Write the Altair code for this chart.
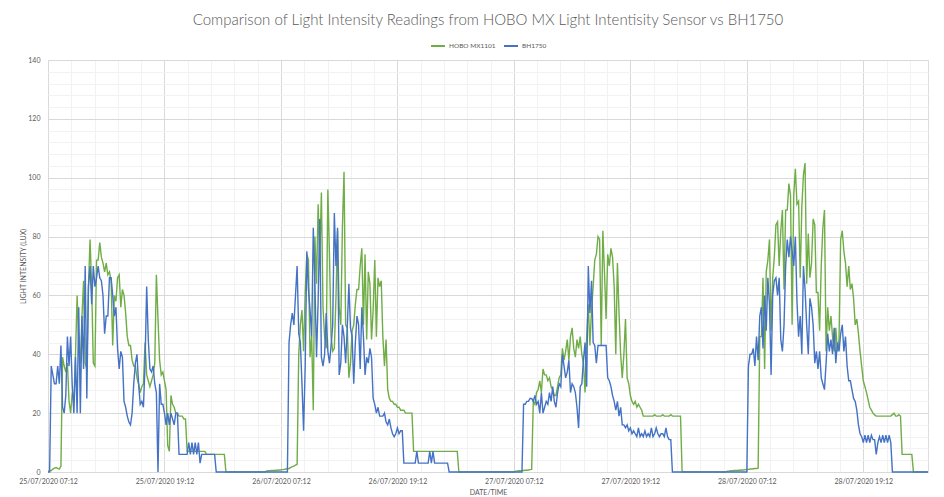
import altair as alt
import pandas as pd

# ---------------- data ----------------
START = "2020-07-25T07:12:00Z"      # first reading
STEP_MINUTES = 10                  # readings every 10 minutes

series_names = ["HOBO MX1101", "BH1750"]
series_colors = ["#70AD47", "#4472C4"]

hobo_mx1101 = [
    0.3, 0.3, 0.5, 1, 1.3, 1.5, 1.2, 1, 2, 39,
    36, 34, 37, 24, 20, 27, 24, 40, 60, 44,
    37, 53, 65, 37, 35, 63, 79, 63, 37, 36,
    72, 72, 78, 73, 71, 68, 71, 67, 68, 65,
    43, 60, 58, 66, 67, 56, 62, 60, 54, 46,
    43, 43, 38, 36, 36, 32, 30, 27, 29, 30,
    44, 33, 31, 29, 31, 33, 37, 67, 52, 38,
    33, 34, 31, 28, 9, 7, 26, 23, 22, 20,
    20, 19, 19, 19, 18, 18, 7, 7, 7, 7,
    7, 7, 7, 7, 7, 7, 7, 7, 6, 6,
    6, 6, 6, 6, 6, 6, 6, 6, 6, 6,
    0, 0, 0, 0, 0, 0, 0, 0, 0, 0,
    0, 0, 0, 0, 0, 0, 0, 0, 0, 0,
    0, 0, 0, 0, 0, 0.3, 0.4, 0.4, 0.5, 0.5,
    0.5, 0.6, 0.6, 0.7, 0.7, 0.8, 0.9, 1, 1.1, 1.2,
    1.5, 1.8, 2, 2.3, 2.6, 40, 50, 55, 41, 61,
    74, 72, 39, 46, 21, 80, 64, 91, 72, 95,
    56, 46, 42, 96, 74, 46, 41, 42, 59, 82,
    56, 50, 83, 102, 50, 49, 32, 37, 48, 50,
    57, 62, 62, 70, 76, 50, 74, 45, 68, 64,
    45, 55, 72, 46, 66, 63, 65, 46, 36, 45,
    28, 25, 24, 24, 23, 23, 22, 22, 21, 21,
    21, 20, 20, 20, 20, 20, 7, 7, 7, 7,
    7, 7, 7, 7, 7, 7, 7, 7, 7, 7,
    7, 7, 7, 7, 7, 7, 7, 7, 7, 7,
    7, 7, 7, 7, 0, 0, 0, 0, 0, 0,
    0, 0, 0, 0, 0, 0, 0, 0, 0, 0,
    0, 0, 0, 0, 0, 0, 0, 0, 0, 0,
    0, 0, 0, 0, 0, 0, 0, 0, 0, 0.3,
    0.3, 0.4, 0.4, 0.5, 0.5, 0.6, 0.6, 0.7, 0.8, 0.9,
    24, 23, 27, 28, 31, 27, 35, 33, 33, 31,
    32, 29, 28, 26, 26, 29, 32, 33, 42, 38,
    41, 45, 38, 46, 49, 42, 39, 45, 42, 46,
    40, 37, 27, 46, 57, 43, 55, 63, 72, 74,
    80, 79, 43, 82, 68, 52, 74, 70, 76, 73,
    63, 40, 71, 54, 40, 32, 40, 52, 32, 30,
    26, 24, 23, 24, 22, 23, 22, 21, 19, 19,
    19, 19, 19, 19, 19, 19.5, 19, 19, 19, 19,
    19.5, 19, 19, 19, 19, 19.5, 19, 19, 19, 19,
    19, 19, 0, 0, 0, 0, 0, 0, 0, 0,
    0, 0, 0, 0, 0, 0, 0, 0, 0, 0,
    0, 0, 0, 0, 0, 0, 0, 0, 0, 0,
    0.3, 0.3, 0.4, 0.4, 0.5, 0.5, 0.5, 0.6, 0.6, 0.7,
    0.7, 0.8, 0.8, 0.9, 1, 1, 1.1, 1.2, 1.2, 1.3,
    46, 46, 66, 35, 68, 72, 79, 48, 66, 73,
    84, 85, 70, 82, 89, 62, 89, 89, 98, 94,
    50, 94, 103, 91, 92, 66, 90, 101, 105, 64,
    81, 66, 71, 86, 84, 61, 61, 48, 70, 83,
    89, 41, 56, 48, 53, 46, 41, 49, 41, 45,
    79, 82, 75, 71, 63, 70, 62, 64, 59, 50,
    52, 47, 41, 36, 31, 29, 27, 24.5, 22, 21,
    20, 19.4, 19, 19, 19, 19, 19, 19, 19, 19,
    19, 19, 19.5, 20, 19, 19, 19.5, 19, 6, 6,
    6, 6, 6, 6, 6, 0, 0, 0, 0, 0,
    0, 0, 0, 0, 0,
]

bh1750 = [
    0, 0, 36, 33, 30, 30, 36, 30, 43, 22,
    20, 26, 46, 36, 46, 29, 20, 39, 20, 56,
    20, 53, 35, 70, 25, 63, 70, 57, 70, 63,
    66, 70, 66, 65, 60, 47, 53, 53, 66, 66,
    60, 53, 56, 42, 35, 41, 39, 24, 22, 19,
    17, 16, 20, 30, 37, 40, 30, 23, 24, 22,
    37, 63, 45, 35, 34, 36, 30, 27, 0, 30,
    23, 23, 20, 16, 20, 16, 20, 18, 16, 20,
    20, 6, 6, 6, 6, 6, 6, 10, 6, 10,
    6, 10, 6, 10, 3, 6, 6, 6, 6, 6,
    6, 6, 6, 6, 0, 0, 0, 0, 0, 0,
    0, 0, 0, 0, 0, 0, 0, 0, 0, 0,
    0, 0, 0, 0, 0, 0, 0, 0, 0, 0,
    0, 0, 0, 0, 0, 0, 0, 0, 0, 0,
    0, 0, 0, 0, 0, 0, 0, 0, 0, 44,
    50, 54, 50, 60, 70, 47, 44, 30, 14, 36,
    75, 62, 55, 46, 83, 64, 39, 58, 86, 39,
    36, 40, 54, 41, 37, 43, 50, 88, 70, 83,
    33, 37, 50, 46, 37, 49, 64, 49, 46, 30,
    44, 53, 50, 35, 56, 46, 33, 39, 37, 42,
    39, 25, 23, 20, 22, 19, 19, 19, 20, 17,
    16, 18, 15, 13, 12, 13, 15, 13, 14, 14,
    3, 3, 3, 3, 3, 3, 3, 3, 7, 3,
    3, 3, 3, 3, 3, 3, 7, 3, 7, 3,
    3, 3, 3, 3, 3, 3, 3, 3, 0, 0,
    0, 0, 0, 0, 0, 0, 0, 0, 0, 0,
    0, 0, 0, 0, 0, 0, 0, 0, 0, 0,
    0, 0, 0, 0, 0, 0, 0, 0, 0, 0,
    0, 0, 0, 0, 0, 0, 0, 0, 0, 0,
    0, 0, 0, 0, 23, 23, 24, 24, 25, 25,
    24, 26, 23, 24, 20, 27, 20, 22, 24, 23,
    27, 24, 29, 24, 22, 27, 30, 29, 40, 36,
    32, 34, 38, 27, 30, 29, 27, 22, 15, 29,
    30, 38, 44, 29, 70, 54, 65, 44, 43, 37,
    43, 43, 43, 43, 43, 43, 32, 31, 29, 26,
    24, 21, 24, 19, 22, 16, 16, 15, 16, 14,
    15, 13, 14, 13, 12, 15, 12, 13, 12, 14,
    12, 13, 12, 15, 12, 13, 15, 13, 12, 13,
    13, 12, 15, 12, 11, 11, 0, 0, 0, 0,
    0, 0, 0, 0, 0, 0, 0, 0, 0, 0,
    0, 0, 0, 0, 0, 0, 0, 0, 0, 0,
    0, 0, 0, 0, 0, 0, 0, 0, 0, 0,
    0, 0, 0, 0, 0, 0, 0, 0, 0, 0,
    0, 0, 0, 36, 40, 40, 42, 36, 46, 38,
    53, 56, 42, 60, 48, 66, 57, 33, 60, 65,
    66, 60, 66, 45, 41, 50, 70, 79, 73, 80,
    75, 70, 80, 58, 46, 53, 40, 70, 62, 50,
    40, 59, 56, 50, 37, 41, 35, 41, 32, 30,
    28, 37, 47, 41, 45, 40, 49, 37, 44, 41,
    47, 50, 41, 46, 36, 31, 31, 28, 25, 24,
    21, 16, 13, 12, 10, 12.5, 10, 12.5, 10, 12.5,
    11, 11, 6, 10, 12, 10, 12.5, 10, 12.5, 10,
    12.5, 10, 0, 0, 0, 0, 0, 0, 0, 0,
    0, 0, 0, 0, 0, 0, 0, 0, 0, 0,
    0, 0, 0, 0, 0,
]

y_ticks_major = [0, 20, 40, 60, 80, 100, 120, 140]

# ---------------- build table ----------------
start_ms = int(pd.Timestamp(START).value // 10**6)
step_ms = STEP_MINUTES * 60 * 1000
times = [start_ms + i * step_ms for i in range(len(hobo_mx1101))]

df = pd.concat([
    pd.DataFrame({"t": times, "v": hobo_mx1101, "series": series_names[0]}),
    pd.DataFrame({"t": times[:len(bh1750)], "v": bh1750, "series": series_names[1]}),
], ignore_index=True)

MAJOR_X = 12 * 3600 * 1000      # 12 hours
MINOR_X = MAJOR_X // 5          # 2.4 hours
x_values = []
v = start_ms
while v <= times[-1]:
    x_values.append(v)
    v += MINOR_X
y_values = list(range(0, 141, 4))

TXT = "#595959"
MAJ = "#D9D9D9"
MIN = "#F2F2F2"
FONT = "Lato"

x_major_test = f"((datum.value - {start_ms}) % {MAJOR_X}) < 1000"

x_enc = alt.X(
    "t:T",
    scale=alt.Scale(type="utc", domain=[times[0], times[-1]], nice=False),
    axis=alt.Axis(
        values=x_values,
        labelExpr=f"{x_major_test} ? utcFormat(datum.value, '%d/%m/%Y %H:%M') : ''",
        gridColor={"condition": {"test": x_major_test, "value": MAJ}, "value": MIN},
        grid=True,
        ticks=False,
        domainColor=MAJ,
        labelPadding=5,
        labelFontSize=7,
        labelFont=FONT,
        labelColor=TXT,
        labelOverlap=False,
        labelBound=False,
        labelFlush=False,
        title="DATE/TIME",
        titleFontSize=7,
        titleFont=FONT,
        titleFontWeight="normal",
        titleColor=TXT,
        titleX=440,
        titleY=20,
        titleBaseline="middle",
        titleAlign="center",
    ),
)

y_enc = alt.Y(
    "v:Q",
    scale=alt.Scale(domain=[0, 140], nice=False),
    axis=alt.Axis(
        values=y_values,
        labelExpr="datum.value % 20 == 0 ? datum.label : ''",
        gridColor={"condition": {"test": "datum.value % 20 == 0", "value": MAJ}, "value": MIN},
        grid=True,
        ticks=False,
        domain=False,
        labelPadding=8,
        labelFontSize=7,
        labelFont=FONT,
        labelColor=TXT,
        title="LIGHT INTENSITY (LUX)",
        titleFontSize=7,
        titleFont=FONT,
        titleFontWeight="normal",
        titleColor=TXT,
        titleX=-25,
        titleY=206,
        titleAngle=-90,
        titleAlign="center",
        titleBaseline="middle",
    ),
)

color_enc = alt.Color(
    "series:N",
    scale=alt.Scale(domain=series_names, range=series_colors),
    legend=alt.Legend(
        orient="none",
        legendX=382,
        legendY=-22,
        direction="horizontal",
        title=None,
        symbolType="stroke",
        symbolStrokeWidth=2,
        symbolSize=196,
        labelFontSize=6.5,
        labelFont=FONT,
        labelColor=TXT,
        labelOffset=3,
        columnPadding=4,
    ),
)

base = alt.Chart(df).mark_line(strokeWidth=1.4).encode(x=x_enc, y=y_enc, color=color_enc)

green = base.transform_filter(alt.datum.series == series_names[0])
blue = base.transform_filter(alt.datum.series == series_names[1])

chart = alt.layer(green, blue).properties(
    width=880,
    height=412,
    title=alt.TitleParams(
        text="Comparison of Light Intensity Readings from HOBO MX Light Intentisity Sensor vs BH1750",
        font=FONT,
        fontSize=15,
        fontWeight=300,
        color=TXT,
        anchor="middle",
        offset=10,
    ),
    autosize=alt.AutoSizeParams(type="none"),
    padding={"left": 40, "top": 52, "right": 8, "bottom": 25},
).configure_view(stroke=None).configure(font=FONT)

chart.save("out.html", embed_options={"renderer": "svg", "actions": False})
